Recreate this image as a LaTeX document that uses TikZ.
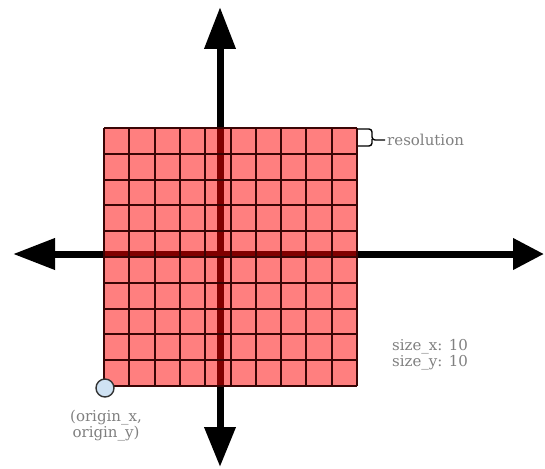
\documentclass[tikz,border=0pt]{standalone}
\usepackage{fontspec}
\setmainfont{DejaVu Serif}
\usetikzlibrary{arrows.meta}
\definecolor{cellred}{HTML}{FF0000}
\definecolor{gridline}{HTML}{3A0505}
\definecolor{labelgray}{HTML}{808080}
\definecolor{originblue}{HTML}{CFE2F3}
\tikzset{
  axisline/.style={line width=7pt, black},
  gridstroke/.style={gridline, line width=1.8pt},
  lbl/.style={text=labelgray, inner sep=0pt, font=\fontsize{15}{16}\selectfont},
}
\begin{document}
\begin{tikzpicture}[x=1pt,y=-1pt]
\useasboundingbox (0,0) rectangle (545,468);
% axis end points
\coordinate (top) at (220,7);
\coordinate (bottom) at (220,467);
\coordinate (left) at (13,254);
\coordinate (right) at (544,254);
\coordinate (vc) at (220,254);
% axes
\draw[axisline, -{Triangle[length=42pt,width=30pt]}] (vc) -- (top);
\draw[axisline, -{Triangle[length=40pt,width=30pt]}] (vc) -- (bottom);
\draw[axisline, -{Triangle[length=42pt,width=30pt]}] (vc) -- (left);
\draw[axisline, -{Triangle[length=31pt,width=30pt]}] (vc) -- (right);
% grid
\fill[cellred, fill opacity=0.5] (104,128) rectangle (357,386);
\foreach \i in {0,...,10} {
  \pgfmathsetmacro{\gx}{round(104+25.3*\i)}
  \pgfmathsetmacro{\gy}{round(128+25.8*\i)}
  \draw[gridstroke] (\gx,128) -- (\gx,386);
  \draw[gridstroke] (104,\gy) -- (357,\gy);
}
% resolution bracket
\draw[black, line width=1.4pt, rounded corners=3pt] (358,129) -- (372,129) -- (372,140) -- (385,140);
\draw[black, line width=1.4pt, rounded corners=3pt] (358,146) -- (372,146) -- (372,139);
\node[lbl, anchor=west] (res) at (387,140) {resolution};
% size labels
\node[lbl, anchor=west, align=left] (size) at (392,355) {size\_x: 10\\size\_y: 10};
% origin
\node[circle, draw=black!80, line width=1.4pt, fill=originblue, minimum size=18pt, inner sep=0pt] (origin) at (105,388) {};
\node[lbl, anchor=north, align=center] (olbl) at (106,410) {(origin\_x,\\origin\_y)};
\end{tikzpicture}
\end{document}
